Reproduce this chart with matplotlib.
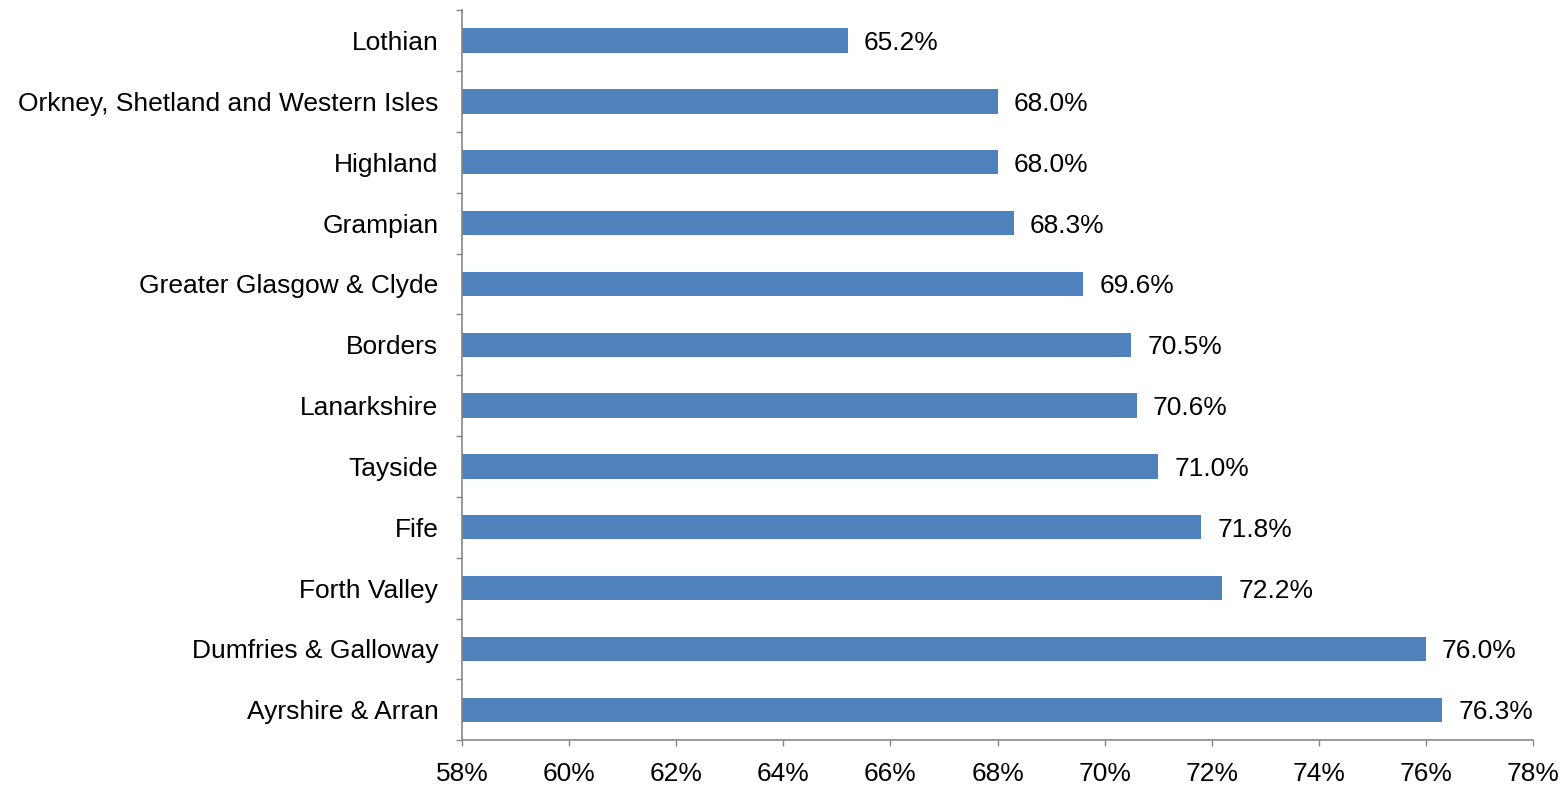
import matplotlib.pyplot as plt
import numpy as np

plt.rcParams['font.family'] = ['Liberation Sans', 'DejaVu Sans']

# Health board values, top to bottom
boards = [
    "Lothian",
    "Orkney, Shetland and Western Isles",
    "Highland",
    "Grampian",
    "Greater Glasgow & Clyde",
    "Borders",
    "Lanarkshire",
    "Tayside",
    "Fife",
    "Forth Valley",
    "Dumfries & Galloway",
    "Ayrshire & Arran",
]
values = [65.2, 68.0, 68.0, 68.3, 69.6, 70.5, 70.6, 71.0, 71.8, 72.2, 76.0, 76.3]
xticks = list(range(58, 79, 2))

fs = 19
fig = plt.figure(figsize=(15.66, 7.85), dpi=100)
ax = fig.add_axes([0.295, 0.057, 0.684, 0.930])

y = np.arange(len(boards))
ax.barh(y, [v - 58 for v in values], left=58, height=0.4, color="#4F81BD")

for yi, v in zip(y, values):
    ax.text(v + 0.3, yi, f"{v:.1f}%", va="center_baseline", ha="left", fontsize=fs)

ax.set_xlim(58, 78)
ax.set_ylim(len(boards) - 0.5, -0.5)
ax.set_xticks(xticks)
ax.set_xticklabels([f"{t}%" for t in xticks], fontsize=fs)
ax.set_yticks(y)
ax.set_yticklabels(boards, fontsize=fs, va="center_baseline")
ax.tick_params(axis="y", which="major", length=0, pad=17)
ax.set_yticks(np.arange(-0.5, len(boards)), minor=True)
ax.tick_params(axis="y", which="minor", length=4.5, color="#888888", width=1)
ax.tick_params(axis="x", length=4.5, color="#888888", width=1, pad=11)

for side in ("top", "right"):
    ax.spines[side].set_visible(False)
for side in ("left", "bottom"):
    ax.spines[side].set_color("#888888")
    ax.spines[side].set_linewidth(1.2)

fig.savefig("out.png", dpi=100)
